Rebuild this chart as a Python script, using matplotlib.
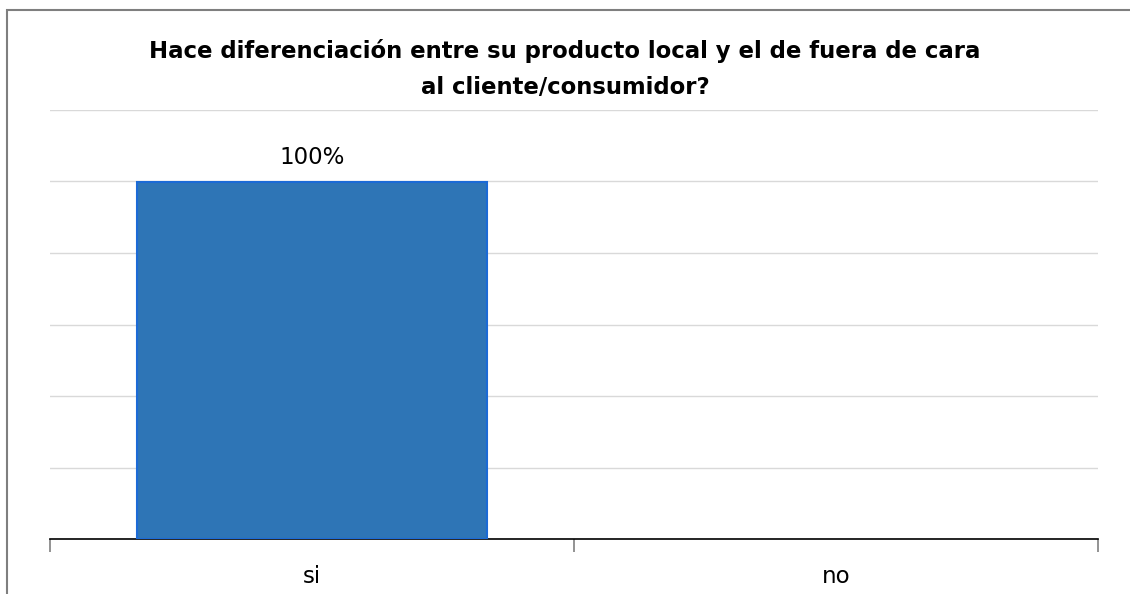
import matplotlib.pyplot as plt
from matplotlib.patches import Rectangle
from matplotlib.ticker import MultipleLocator, FixedLocator

categorias = ['si', 'no']
valores = [1.00, 0.0]
etiquetas = ['100%', '']
titulo = 'Hace diferenciación entre su producto local y el de fuera de cara\nal cliente/consumidor?'

fig = plt.figure(figsize=(11.3, 5.94), dpi=100)
ax = fig.add_axes([50/1130, 1-539/594, 1048/1130, 429/594])

x = range(len(categorias))
barras = ax.bar(x, valores, width=0.668, color='#2e75b6', edgecolor='#1b6ad6',
                linewidth=[1.5 if v > 0 else 0 for v in valores], zorder=3)
for b, v, t in zip(barras, valores, etiquetas):
    if t:
        ax.text(b.get_x() + b.get_width()/2, v + 0.068, t, ha='center', va='center', fontsize=16.5)

ax.set_xlim(-0.5, 1.5)
ax.set_ylim(0, 1.2)
ax.yaxis.set_major_locator(MultipleLocator(0.2))
ax.grid(axis='y', color='#d9d9d9', linewidth=1, zorder=0)
ax.set_yticklabels([])
ax.tick_params(axis='y', length=0)

ax.set_xticks(list(x))
ax.set_xticklabels(categorias, fontsize=16.5)
ax.tick_params(axis='x', which='major', length=0, pad=19)
ax.xaxis.set_minor_locator(FixedLocator([-0.5, 0.5, 1.5]))
ax.tick_params(axis='x', which='minor', length=9, color='#808080', width=1.2)

for s in ['top', 'right', 'left']:
    ax.spines[s].set_visible(False)
ax.spines['bottom'].set_linewidth(1.2)

fig.text(565/1130, 1-69/594, titulo, ha='center', va='center', fontsize=16.4,
         fontweight='bold', linespacing=1.7)

# marco exterior
fig.patches.append(Rectangle((7/1130, -0.1), 1.2, 1-10/594 + 0.1, transform=fig.transFigure,
                             fill=False, edgecolor='#7f7f7f', linewidth=1.5))

fig.savefig('out.png', dpi=100)
